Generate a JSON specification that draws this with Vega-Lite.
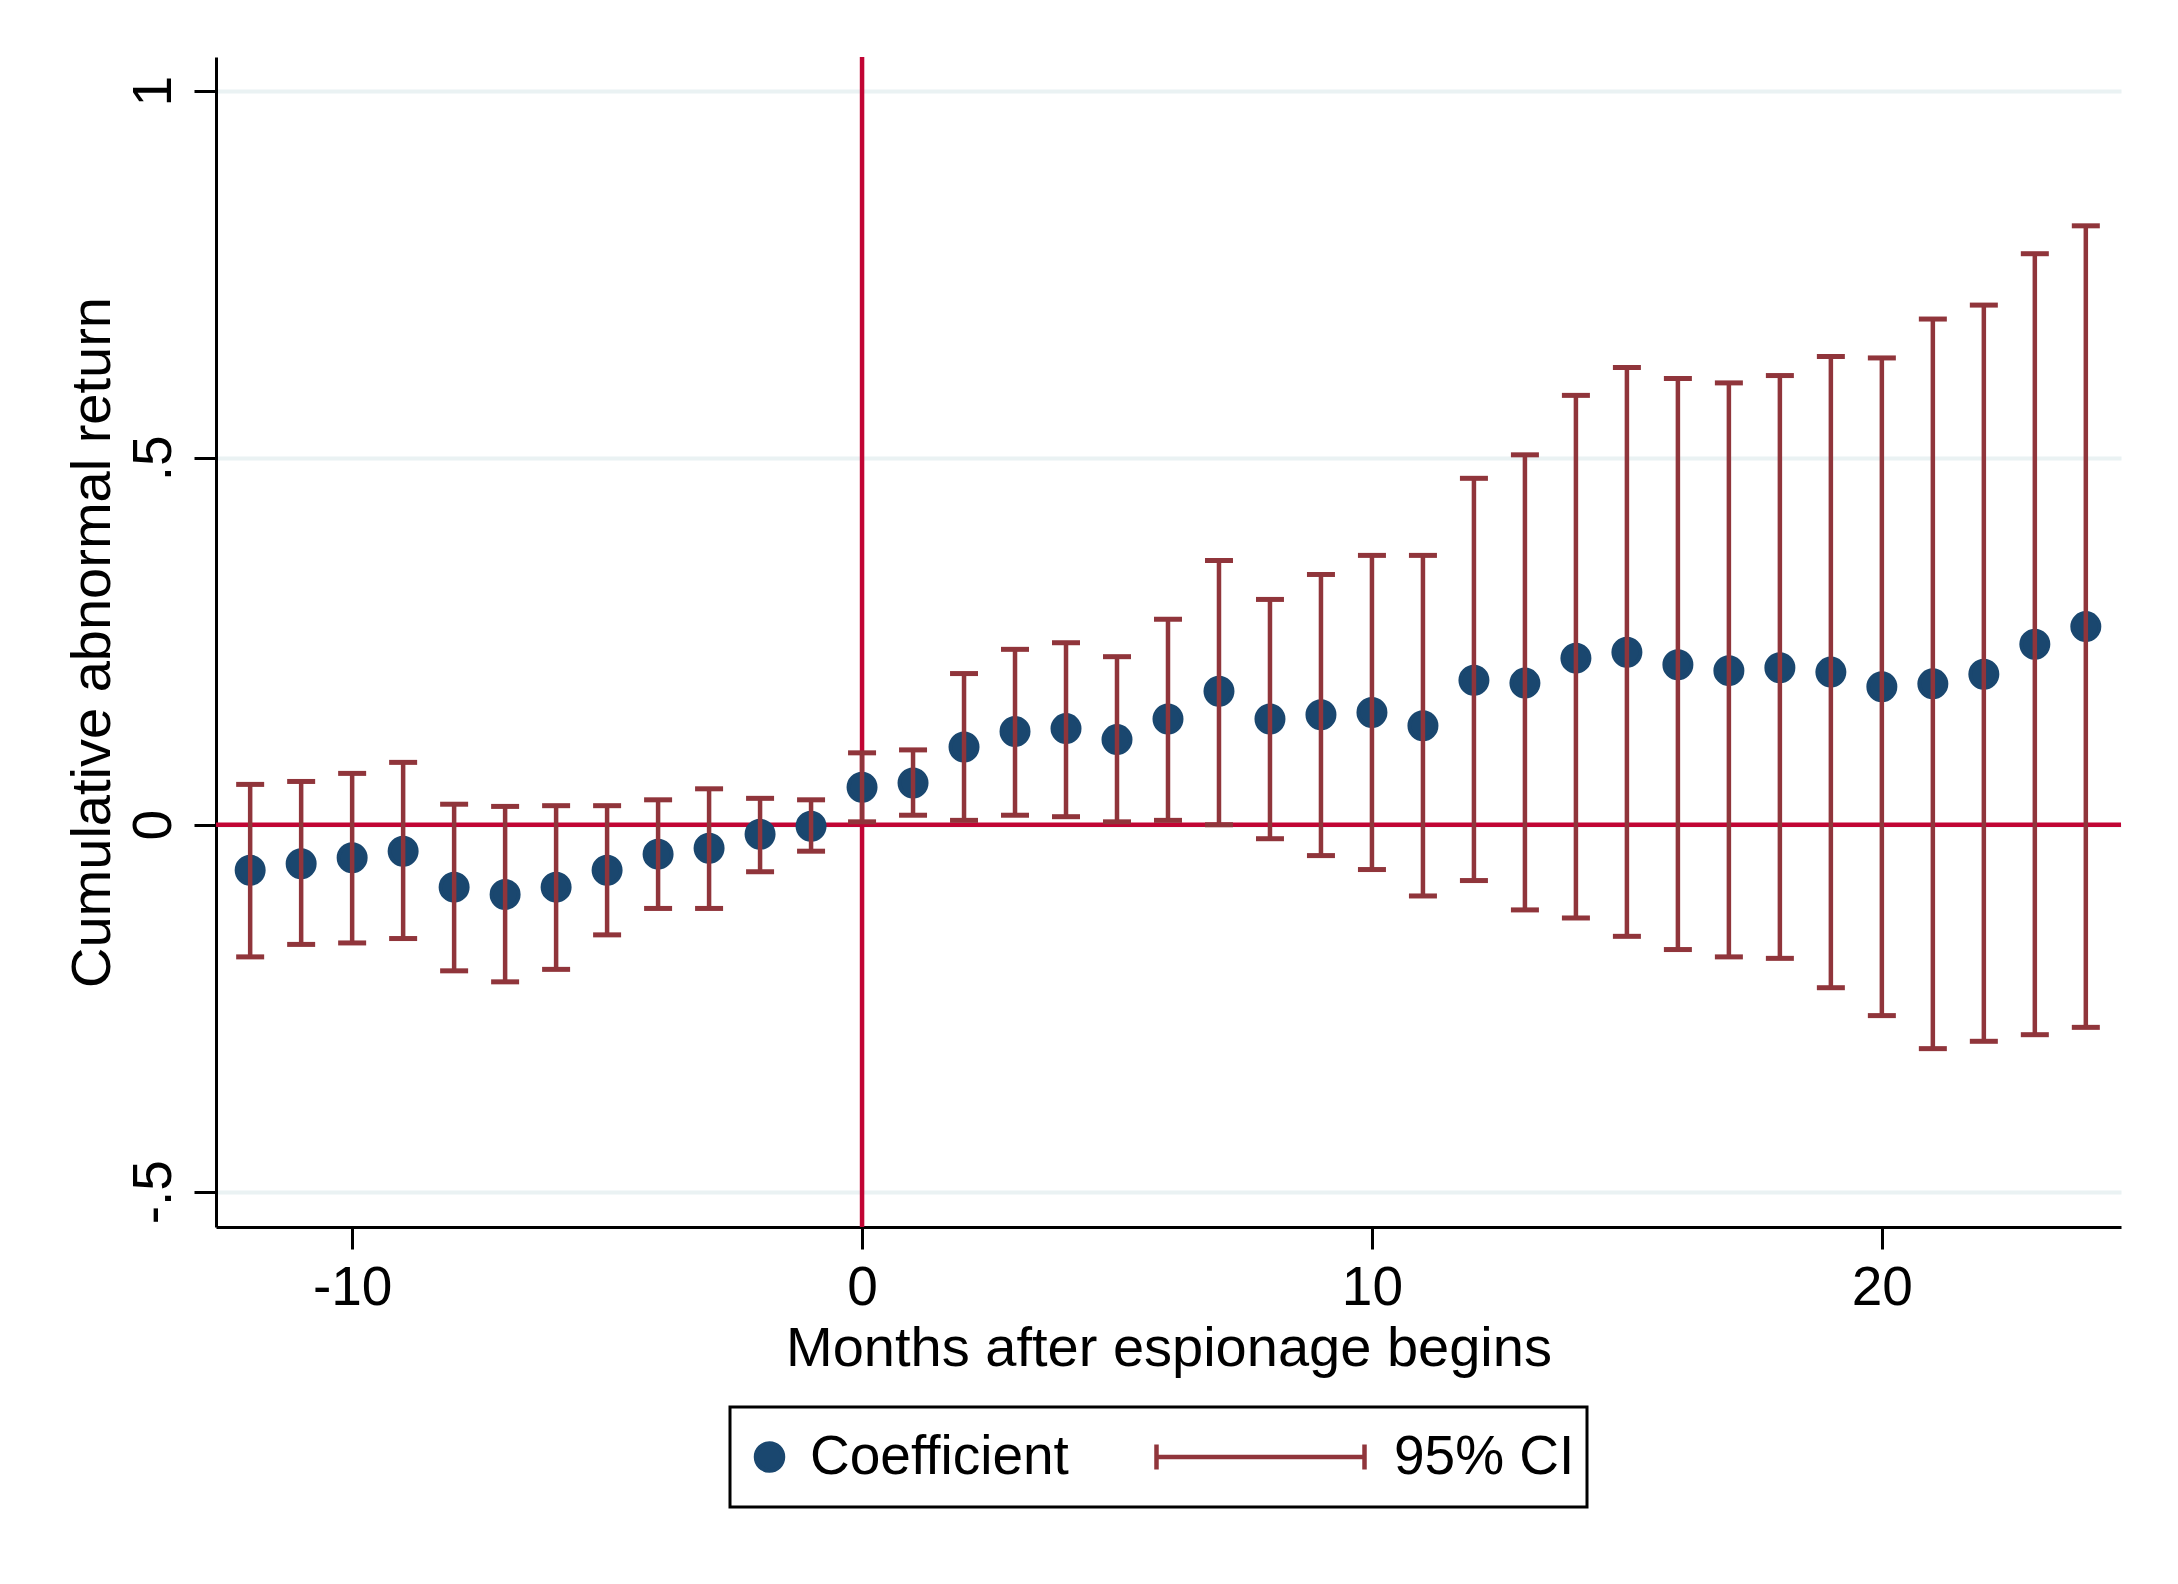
{
  "$schema": "https://vega.github.io/schema/vega-lite/v6.json",
  "width": 1905,
  "height": 1170,
  "autosize": {"type": "none"},
  "padding": {"left": 216, "top": 57, "right": 57, "bottom": 357},
  "background": "white",
  "config": {
    "view": {"stroke": null},
    "font": "Liberation Sans",
    "axis": {
      "domainColor": "black",
      "domainWidth": 3,
      "tickColor": "black",
      "tickWidth": 3,
      "tickSize": 22,
      "labelFont": "Liberation Sans",
      "labelFontSize": 55,
      "labelColor": "black",
      "titleFont": "Liberation Sans",
      "titleFontSize": 56,
      "titleFontWeight": "normal",
      "titleColor": "black"
    },
    "legend": {
      "labelFont": "Liberation Sans",
      "labelFontSize": 55,
      "labelColor": "black",
      "labelLimit": 600,
      "strokeWidth": 3
    }
  },
  "layer": [
    {
      "data": {"values": [{"ref": 0}]},
      "mark": {"type": "rule", "color": "#c10534", "strokeWidth": 4.5},
      "encoding": {"y": {"field": "ref", "type": "quantitative"}}
    },
    {
      "data": {"values": [{"ref": 0}]},
      "mark": {"type": "rule", "color": "#c10534", "strokeWidth": 4.5},
      "encoding": {"x": {"field": "ref", "type": "quantitative"}}
    },
    {
      "data": {"name": "est"},
      "mark": {"type": "point", "filled": true, "opacity": 1, "stroke": "#1a476f", "strokeWidth": 4},
      "encoding": {
        "x": {
          "field": "m",
          "type": "quantitative",
          "scale": {"domain": [-12.67, 24.69], "nice": false, "zero": false},
          "axis": {
            "values": [-10, 0, 10, 20],
            "labelExpr": "toString(datum.value)",
            "labelPadding": 12,
            "titlePadding": 6,
            "grid": false
          },
          "title": "Months after espionage begins"
        },
        "y": {
          "field": "b",
          "type": "quantitative",
          "scale": {"domain": [-0.548, 1.046], "nice": false, "zero": false},
          "axis": {
            "values": [-0.5, 0, 0.5, 1],
            "labelExpr": "replace(toString(datum.value), '0.', '.')",
            "labelAngle": -90,
            "labelAlign": "center",
            "labelBaseline": "bottom",
            "labelPadding": 12,
            "titlePadding": 5,
            "grid": true,
            "gridColor": "#eaf2f3",
            "gridWidth": 4
          },
          "title": "Cumulative abnormal return"
        },
        "color": {
          "datum": "Coefficient",
          "type": "nominal",
          "scale": {"domain": ["Coefficient", "95% CI"], "range": ["#1a476f", "#90353b"]},
          "legend": {
            "title": null,
            "orient": "none",
            "legendX": 514,
            "legendY": 1350,
            "direction": "horizontal",
            "strokeColor": "black",
            "padding": 12,
            "clipHeight": 76,
            "labelOffset": 13,
            "labelLimit": 600,
            "columnPadding": 71,
            "symbolStrokeWidth": 4.5,
            "encode": {
              "legend": {
                "enter": {"strokeWidth": {"value": 3}},
                "update": {"strokeWidth": {"value": 3}}
              },
              "symbols": {
                "update": {
                  "fill": {"scale": "color", "field": "value"},
                  "stroke": {"scale": "color", "field": "value"},
                  "strokeWidth": {"value": 4.5},
                  "opacity": {"value": 1}
                }
              }
            }
          }
        },
        "shape": {
          "datum": "Coefficient",
          "type": "nominal",
          "scale": {"domain": ["Coefficient", "95% CI"], "range": ["circle", "M-0.8814,0H0.8814M-0.8814,-0.106V0.106M0.8814,-0.106V0.106"]}
        },
        "size": {
          "datum": "Coefficient",
          "type": "nominal",
          "scale": {"type": "ordinal", "domain": ["Coefficient", "95% CI"], "range": [729, 55696]}
        }
      }
    },
    {
      "data": {"name": "est"},
      "mark": {"type": "rule", "strokeWidth": 4.5},
      "encoding": {
        "x": {"field": "m", "type": "quantitative"},
        "y": {"field": "lo", "type": "quantitative"},
        "y2": {"field": "hi"},
        "color": {"datum": "95% CI", "type": "nominal"}
      }
    },
    {
      "data": {"name": "est"},
      "mark": {"type": "tick", "orient": "horizontal", "size": 28, "thickness": 5, "color": "#90353b", "opacity": 1},
      "encoding": {
        "x": {"field": "m", "type": "quantitative"},
        "y": {"field": "lo", "type": "quantitative"}
      }
    },
    {
      "data": {"name": "est"},
      "mark": {"type": "tick", "orient": "horizontal", "size": 28, "thickness": 5, "color": "#90353b", "opacity": 1},
      "encoding": {
        "x": {"field": "m", "type": "quantitative"},
        "y": {"field": "hi", "type": "quantitative"}
      }
    }
  ],
  "datasets": {
    "est": [
      {"m": -12, "b": -0.062, "lo": -0.180, "hi": 0.055},
      {"m": -11, "b": -0.053, "lo": -0.163, "hi": 0.059},
      {"m": -10, "b": -0.045, "lo": -0.161, "hi": 0.070},
      {"m": -9, "b": -0.036, "lo": -0.155, "hi": 0.085},
      {"m": -8, "b": -0.085, "lo": -0.199, "hi": 0.028},
      {"m": -7, "b": -0.095, "lo": -0.214, "hi": 0.025},
      {"m": -6, "b": -0.085, "lo": -0.197, "hi": 0.026},
      {"m": -5, "b": -0.062, "lo": -0.150, "hi": 0.026},
      {"m": -4, "b": -0.040, "lo": -0.114, "hi": 0.034},
      {"m": -3, "b": -0.032, "lo": -0.114, "hi": 0.049},
      {"m": -2, "b": -0.013, "lo": -0.064, "hi": 0.036},
      {"m": -1, "b": -0.002, "lo": -0.036, "hi": 0.034},
      {"m": 0, "b": 0.051, "lo": 0.004, "hi": 0.098},
      {"m": 1, "b": 0.057, "lo": 0.013, "hi": 0.102},
      {"m": 2, "b": 0.106, "lo": 0.006, "hi": 0.206},
      {"m": 3, "b": 0.127, "lo": 0.013, "hi": 0.239},
      {"m": 4, "b": 0.131, "lo": 0.011, "hi": 0.248},
      {"m": 5, "b": 0.116, "lo": 0.004, "hi": 0.229},
      {"m": 6, "b": 0.144, "lo": 0.006, "hi": 0.280},
      {"m": 7, "b": 0.182, "lo": 0.000, "hi": 0.360},
      {"m": 8, "b": 0.144, "lo": -0.019, "hi": 0.307},
      {"m": 9, "b": 0.150, "lo": -0.042, "hi": 0.341},
      {"m": 10, "b": 0.153, "lo": -0.061, "hi": 0.367},
      {"m": 11, "b": 0.135, "lo": -0.097, "hi": 0.367},
      {"m": 12, "b": 0.197, "lo": -0.076, "hi": 0.472},
      {"m": 13, "b": 0.193, "lo": -0.116, "hi": 0.504},
      {"m": 14, "b": 0.227, "lo": -0.127, "hi": 0.585},
      {"m": 15, "b": 0.235, "lo": -0.152, "hi": 0.623},
      {"m": 16, "b": 0.218, "lo": -0.170, "hi": 0.608},
      {"m": 17, "b": 0.210, "lo": -0.180, "hi": 0.602},
      {"m": 18, "b": 0.214, "lo": -0.182, "hi": 0.612},
      {"m": 19, "b": 0.208, "lo": -0.222, "hi": 0.638},
      {"m": 20, "b": 0.188, "lo": -0.260, "hi": 0.636},
      {"m": 21, "b": 0.192, "lo": -0.305, "hi": 0.689},
      {"m": 22, "b": 0.205, "lo": -0.295, "hi": 0.708},
      {"m": 23, "b": 0.246, "lo": -0.286, "hi": 0.778},
      {"m": 24, "b": 0.270, "lo": -0.276, "hi": 0.816}
    ]
  }
}
